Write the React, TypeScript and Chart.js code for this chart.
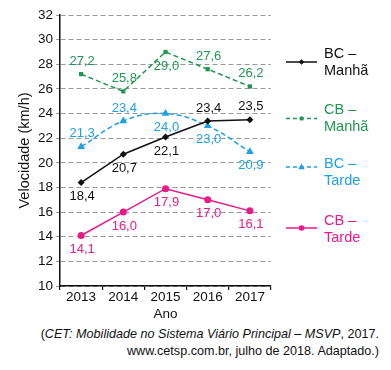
import React, { useEffect, useRef } from 'react';
import { Chart, registerables } from 'chart.js';

Chart.register(...registerables);

// ---- data ----
const years = ['2013', '2014', '2015', '2016', '2017'];
const bcManha = [18.4, 20.7, 22.1, 23.4, 23.5];
const cbManha = [27.2, 25.8, 29.0, 27.6, 26.2];
const bcTarde = [21.3, 23.4, 24.0, 23.0, 20.9];
const cbTarde = [14.1, 16.0, 17.9, 17.0, 16.1];
const yMin = 10;
const yMax = 32;
const yStep = 2;
const legendNames = [
  ['BC –', 'Manhã'],
  ['CB –', 'Manhã'],
  ['BC –', 'Tarde'],
  ['CB –', 'Tarde'],
];

// label placement (style)
const bcManhaSide = ['below', 'below', 'below', 'above', 'above'];
const cbManhaSide = ['above', 'above', 'below', 'above', 'above'];
const bcTardeSide = ['above', 'above', 'below', 'below', 'below'];
const cbTardeSide = ['below', 'below', 'below', 'below', 'below'];

const FONT = "'Liberation Sans', Arial, sans-serif";
const BLACK = '#111111';
const GREEN = '#1f9750';
const BLUE = '#1ea0e4';
const PINK = '#ea1a8a';

const fmt = (v: number) => v.toFixed(1).replace('.', ',');

function drawMarker(ctx: CanvasRenderingContext2D, style: string, x: number, y: number, r: number, color: string) {
  ctx.save();
  ctx.setLineDash([]);
  ctx.fillStyle = color;
  ctx.beginPath();
  if (style === 'rectRot') {
    ctx.moveTo(x, y - r);
    ctx.lineTo(x + r, y);
    ctx.lineTo(x, y + r);
    ctx.lineTo(x - r, y);
    ctx.closePath();
  } else if (style === 'rect') {
    ctx.rect(x - r * 0.8, y - r * 0.8, r * 1.6, r * 1.6);
  } else if (style === 'triangle') {
    ctx.moveTo(x, y - r);
    ctx.lineTo(x + r * 0.9, y + r * 0.6);
    ctx.lineTo(x - r * 0.9, y + r * 0.6);
    ctx.closePath();
  } else {
    ctx.arc(x, y, r, 0, Math.PI * 2);
  }
  ctx.fill();
  ctx.restore();
}

const sides = [bcManhaSide, cbManhaSide, bcTardeSide, cbTardeSide];

const labelPlugin = {
  id: 'valueLabels',
  afterDatasetsDraw(chart: any) {
    const ctx: CanvasRenderingContext2D = chart.ctx;
    ctx.save();
    ctx.font = `13px ${FONT}`;
    ctx.textAlign = 'center';
    ctx.textBaseline = 'middle';
    chart.data.datasets.forEach((ds: any, i: number) => {
      const meta = chart.getDatasetMeta(i);
      ctx.fillStyle = ds.borderColor;
      meta.data.forEach((pt: any, j: number) => {
        const side = sides[i][j];
        const dy = side === 'above' ? -13 : 14;
        ctx.fillText(fmt(ds.data[j]), pt.x + 1, pt.y + dy);
      });
    });
    ctx.restore();
  },
};

const legendPlugin = {
  id: 'sideLegend',
  afterDraw(chart: any) {
    const ctx: CanvasRenderingContext2D = chart.ctx;
    const x0 = chart.chartArea.right + 15;
    const lineW = 31;
    const textX = x0 + 38;
    const textTops = [54, 110, 164, 221];
    const lineOffsets = [8, 8.5, 3, 7];
    ctx.save();
    chart.data.datasets.forEach((ds: any, i: number) => {
      const ly = textTops[i] + lineOffsets[i];
      ctx.strokeStyle = ds.borderColor;
      ctx.lineWidth = ds.borderWidth;
      ctx.setLineDash(ds.borderDash ? [4, 3] : []);
      ctx.beginPath();
      ctx.moveTo(x0, ly);
      ctx.lineTo(x0 + lineW, ly);
      ctx.stroke();
      drawMarker(ctx, ds.pointStyle, x0 + lineW / 2, ly, ds.pointRadius * 0.8, ds.borderColor);
      ctx.fillStyle = ds.borderColor;
      ctx.font = `14.5px ${FONT}`;
      ctx.textAlign = 'left';
      ctx.textBaseline = 'middle';
      ctx.fillText(legendNames[i][0], textX, textTops[i]);
      ctx.fillText(legendNames[i][1], textX, textTops[i] + 17);
    });
    ctx.restore();
  },
};

export default function App() {
  const ref = useRef<HTMLCanvasElement>(null);
  useEffect(() => {
    if (!ref.current) return;
    const chart = new Chart(ref.current, {
      type: 'line',
      data: {
        labels: years,
        datasets: [
          {
            label: 'BC – Manhã',
            data: bcManha,
            borderColor: BLACK,
            backgroundColor: BLACK,
            borderWidth: 1.5,
            pointStyle: 'rectRot',
            pointRadius: 3.5,
            pointBorderWidth: 0,
            tension: 0,
          },
          {
            label: 'CB – Manhã',
            data: cbManha,
            borderColor: GREEN,
            backgroundColor: GREEN,
            borderWidth: 1.5,
            borderDash: [5, 3],
            pointStyle: 'rect',
            pointRadius: 3,
            pointBorderWidth: 0,
            tension: 0,
          },
          {
            label: 'BC – Tarde',
            data: bcTarde,
            borderColor: BLUE,
            backgroundColor: BLUE,
            borderWidth: 1.5,
            borderDash: [5, 3],
            pointStyle: 'triangle',
            pointRadius: 4.5,
            pointBorderWidth: 0,
            tension: 0.4,
          },
          {
            label: 'CB – Tarde',
            data: cbTarde,
            borderColor: PINK,
            backgroundColor: PINK,
            borderWidth: 1.5,
            pointStyle: 'circle',
            pointRadius: 3.5,
            pointBorderWidth: 0,
            tension: 0,
          },
        ],
      },
      options: {
        animation: false,
        responsive: true,
        maintainAspectRatio: false,
        layout: { padding: { top: 15, right: 120, left: 0, bottom: 0 } },
        plugins: {
          legend: { display: false },
          tooltip: { enabled: false },
        },
        scales: {
          x: {
            offset: true,
            grid: {
              offset: true,
              drawOnChartArea: false,
              drawTicks: true,
              tickLength: 4,
              color: BLACK,
              lineWidth: 1.2,
            },
            border: { display: true, color: BLACK, width: 1.5 },
            ticks: {
              color: BLACK,
              font: { family: FONT, size: 13.5 },
              padding: -1,
              maxRotation: 0,
            },
            title: {
              display: true,
              text: 'Ano',
              color: BLACK,
              font: { family: FONT, size: 13.5, lineHeight: 1 },
              padding: { top: 0, bottom: 0 },
            },
            afterFit: (s: any) => {
              s.height = 35;
            },
          },
          y: {
            min: yMin,
            max: yMax,
            grid: {
              color: '#9a9a9a',
              lineWidth: 1,
              tickLength: 4,
              tickColor: '#9a9a9a',
            },
            border: { display: true, color: BLACK, width: 1.5, dash: [5, 3] },
            ticks: {
              stepSize: yStep,
              color: BLACK,
              font: { family: FONT, size: 13.5 },
              padding: 3,
            },
            title: {
              display: true,
              text: 'Velocidade (km/h)',
              color: BLACK,
              font: { family: FONT, size: 14.5, lineHeight: 1.2 },
              padding: { top: 16, bottom: 0 },
            },
            afterFit: (s: any) => {
              s.width = 60;
            },
          },
        },
      },
      plugins: [labelPlugin, legendPlugin],
    } as any);
    return () => chart.destroy();
  }, []);

  return (
    <div style={{ position: 'absolute', left: 0, top: 0, width: 391, height: 370, background: '#fff' }}>
      <div style={{ position: 'absolute', left: 0, top: 0, width: 391, height: 321 }}>
        <canvas ref={ref} />
      </div>
      <div
        style={{
          position: 'absolute',
          right: 12,
          top: 326,
          textAlign: 'right',
          fontFamily: FONT,
          fontSize: 12.6,
          lineHeight: '16.5px',
          color: BLACK,
          whiteSpace: 'nowrap',
        }}
      >
        <div>
          (<i>CET: Mobilidade no Sistema Viário Principal – MSVP</i>, 2017.
        </div>
        <div>www.cetsp.com.br, julho de 2018. Adaptado.)</div>
      </div>
    </div>
  );
}
